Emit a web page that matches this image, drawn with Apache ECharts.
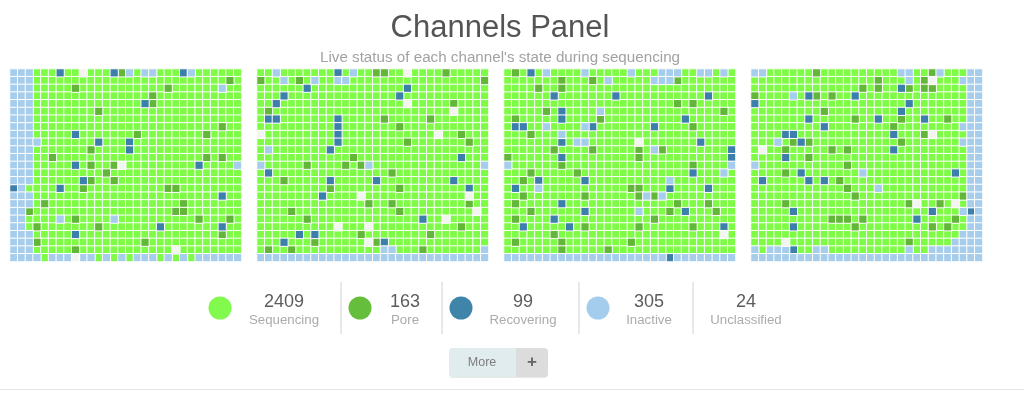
<!DOCTYPE html>
<html>
<head>
<meta charset="utf-8">
<style>html,body{margin:0;padding:0;background:#fff}#c{width:1024px;height:402px}</style>
<script src="https://cdn.jsdelivr.net/npm/echarts@6/dist/echarts.min.js"></script>
</head>
<body>
<div id="c"></div>
<script>
const columnCount = 30;
const rowCount = 25;

// Each map: row index -> column indices of the cells in that state.
const panel1Inactive = {0:[0,1,2,15,17,18,23],1:[0,1,2],2:[0,1,2,27],3:[0,1,2],4:[0,1,2],5:[0,1,2],6:[0,1,2],7:[0,1,2],8:[0,1,2],9:[0,1,2,3],10:[0,1,2],11:[0,1,2],12:[0,1,2,29],13:[0,1,2],14:[0,1,2],15:[1],16:[0,1,2],17:[0,1,2],18:[0,1],19:[0,1,6,13],20:[0,1],21:[0,1,2],22:[0,1,2],23:[0,1,2],24:[0,1,2,3,5,6,7,9,10,12,14,16,17,18,20,22,24,25,26,27,28,29]};
const panel1Pore = {0:[14],1:[28],2:[8,20],3:[18],4:[18],5:[11],7:[27],8:[16,25],10:[10],11:[5,25,27],12:[10,13],13:[12],14:[10,13],15:[9,20,21],17:[4,22],18:[2,21,22],19:[8,24,28],20:[3,11],21:[27],22:[3,17],23:[8]};
const panel1Recovering = {0:[6,13,22],4:[17],8:[8],9:[11,15],10:[15],12:[8,24],14:[9],15:[0,6],16:[27],20:[19,27],21:[8]};
const panel1Unclassified = {0:[9],12:[14],23:[21],24:[8]};

const panel2Inactive = {0:[2,12],1:[3,7,10,11],10:[1],12:[0,14,29],23:[16,17,29],24:[0,1,2,3,4,5,6,7,8,9,10,11,12,13,14,15,16,17,18,19,20,21,22,23,24,25,26,27,28,29]};
const panel2Pore = {0:[15,16,24],1:[0,5,29],4:[25],5:[1],6:[16,22],7:[18],8:[26],9:[19,27],11:[12],12:[6,11,13],13:[17],14:[3],15:[9,18],17:[14,17,27],18:[4,18],19:[6],20:[26],21:[13,22],22:[7,15],23:[1,4,21]};
const panel2Recovering = {0:[10],2:[6,19],3:[3,18],4:[2],6:[1,2,10],7:[10],8:[10],9:[10],10:[9],11:[26],13:[1],14:[9,15,25],15:[27],16:[8],19:[21],21:[5,7],22:[3,16]};
const panel2Unclassified = {0:[19],4:[19],5:[25],8:[0,23],16:[13,27],18:[28],19:[24],20:[10,14],22:[14]};

const panel3Inactive = {0:[5,10,16,20,21,22,25,26,28],1:[13,19,20,21],5:[12],7:[5,10],8:[7],9:[9,10],10:[19],12:[0,29],13:[28],14:[21],15:[4],16:[18,20],18:[17],24:[0,1,2,3,4,5,6,7,8,9,10,11,12,13,14,15,16,17,18,19,20,22,23,24,25,26,27,28,29]};
const panel3Pore = {0:[1],1:[7,11,22],2:[4,7],4:[22,24],5:[5,28],6:[1,12],7:[24],8:[3],10:[6,11,17,20],11:[0,17],12:[7,24],13:[3,9],14:[2],15:[16,17],16:[2,10,17,19],17:[1,22,26],18:[3,21,27],19:[1,19],20:[10,17,24],21:[6],22:[1,7,16],23:[7,13]};
const panel3Recovering = {0:[3],3:[6,14,26],5:[7],6:[7,23],7:[1,2,11,19],9:[7,25],10:[29],11:[7,29],13:[24],14:[4,10],15:[1,21,26],17:[7],18:[10,23],19:[6],20:[2,8,28],24:[21]};
const panel3Unclassified = {9:[17],21:[28]};

const panel4Inactive = {0:[0,1,19,20,24,28,29],1:[20,27,28,29],2:[28,29],3:[5,28,29],4:[28,29],5:[28,29],6:[28,29],7:[27,28,29],8:[28,29],9:[3,27,28,29],10:[28,29],11:[28,29],12:[0,28,29],13:[14,28,29],14:[28,29],15:[16,28,29],16:[28,29],17:[28,29],18:[27,29],19:[28,29],20:[28,29],21:[27,28,29],22:[26,27,28,29],23:[0,2,3,4,8,9,20,23,24,25,26,27,28,29],24:[0,1,2,3,4,5,6,7,8,9,10,11,12,13,14,15,16,17,18,19,20,21,22,23,24,25,26,27,28,29]};
const panel4Pore = {0:[8,23],1:[16,22],2:[14,16,20,22,23],3:[0,8,10],5:[9],6:[13,19,25],7:[18],8:[22],9:[5,7,19],10:[4,10,12],11:[7],12:[12],13:[4],14:[11],15:[12],16:[13,27],17:[4,20,24],19:[10,11,12,14,26],20:[13,23,25],22:[20]};
const panel4Recovering = {2:[19],3:[7,13],4:[0,20],5:[19],6:[7,16,22],7:[9],8:[4,5,18],9:[6],10:[18],11:[4],13:[6,26],14:[1,7,9],18:[5,23,28],19:[21],20:[5],23:[5]};
const panel4Unclassified = {1:[23],8:[23],10:[1],17:[21,26],22:[4]};

const panels = [
  {inactive:panel1Inactive,pore:panel1Pore,recovering:panel1Recovering,unclassified:panel1Unclassified},
  {inactive:panel2Inactive,pore:panel2Pore,recovering:panel2Recovering,unclassified:panel2Unclassified},
  {inactive:panel3Inactive,pore:panel3Pore,recovering:panel3Recovering,unclassified:panel3Unclassified},
  {inactive:panel4Inactive,pore:panel4Pore,recovering:panel4Recovering,unclassified:panel4Unclassified}
];

const legendLabels = ['Sequencing','Pore','Recovering','Inactive','Unclassified'];
const legendCounts = [2409,163,99,305,24];
const titleText = 'Channels Panel';
const subtitleText = "Live status of each channel's state during sequencing";
const buttonText = 'More';

const stateColors = {sequencing:'#7dfb45',pore:'#62b638',recovering:'#3c7fab',inactive:'#a6cdec',unclassified:'#f4f4f0'};
const legendColors = ['#82f94d','#66bf3c','#3f84a9','#a3cced',null];
const panelLefts = [10,257,504,751];
const panelWidth = 231.5;
const panelTop = 69;
const panelHeight = 192.5;

const indexList = n => Array.from({length:n},(_,i)=>i);

function cellsOf(map){
  const out=[];
  Object.keys(map).forEach(r=>map[r].forEach(c=>out.push([c,+r,1])));
  return out;
}
function sequencingCells(p){
  const taken=new Set();
  ['inactive','pore','recovering','unclassified'].forEach(k=>cellsOf(p[k]).forEach(d=>taken.add(d[0]+'_'+d[1])));
  const out=[];
  indexList(rowCount).forEach(r=>indexList(columnCount).forEach(c=>{ if(!taken.has(c+'_'+r)) out.push([c,r,1]); }));
  return out;
}

const grids=[],xAxes=[],yAxes=[],series=[];
panels.forEach((p,i)=>{
  grids.push({left:panelLefts[i],top:panelTop,width:panelWidth,height:panelHeight});
  xAxes.push({type:'category',gridIndex:i,show:false,data:indexList(columnCount)});
  yAxes.push({type:'category',gridIndex:i,show:false,inverse:true,data:indexList(rowCount)});
  const datasets={sequencing:sequencingCells(p),pore:cellsOf(p.pore),recovering:cellsOf(p.recovering),inactive:cellsOf(p.inactive),unclassified:cellsOf(p.unclassified)};
  Object.keys(datasets).forEach(k=>{
    series.push({type:'heatmap',name:k,xAxisIndex:i,yAxisIndex:i,data:datasets[k],silent:true,animation:false,progressive:0,
      itemStyle:{color:stateColors[k],borderColor:'#ffffff',borderWidth:1}});
  });
});

const font='"Liberation Sans", Arial, sans-serif';
const legendCircleX=[220,360,461,598,null];
const legendTextX=[284,405,523,649,746];
const dividerX=[341,442,579,693];
const graphic=[];
legendLabels.forEach((label,i)=>{
  if(legendColors[i]) graphic.push({type:'circle',shape:{cx:legendCircleX[i],cy:308,r:11.5},style:{fill:legendColors[i]},silent:true});
  graphic.push({type:'text',x:legendTextX[i],y:302,style:{text:String(legendCounts[i]),font:'400 18px '+font,fill:'#5c5c5c',textAlign:'center',textVerticalAlign:'middle'},silent:true});
  graphic.push({type:'text',x:legendTextX[i],y:320,style:{text:label,font:'400 13.25px '+font,fill:'#ababab',textAlign:'center',textVerticalAlign:'middle'},silent:true});
});
dividerX.forEach(x=>graphic.push({type:'rect',shape:{x:x-0.5,y:282,width:1,height:52},style:{fill:'#d2d2d2'},silent:true}));
graphic.push({type:'rect',shape:{x:449,y:349,width:99,height:29,r:4},style:{fill:'#e8e8e8'},silent:true});
graphic.push({type:'rect',shape:{x:449,y:348,width:67,height:29,r:[4,0,0,4]},style:{fill:'#e1ecef'},silent:true});
graphic.push({type:'rect',shape:{x:516,y:348,width:32,height:29,r:[0,4,4,0]},style:{fill:'#dcdcdc'},silent:true});
graphic.push({type:'text',x:482,y:363,style:{text:buttonText,font:'400 12.5px '+font,fill:'#7d7d7d',textAlign:'center',textVerticalAlign:'middle'},silent:true});
graphic.push({type:'text',x:532,y:362,style:{text:'+',font:'700 17px '+font,fill:'#666666',textAlign:'center',textVerticalAlign:'middle'},silent:true});
graphic.push({type:'rect',shape:{x:0,y:389,width:1024,height:1},style:{fill:'#e4e4e4'},silent:true});

const chart=echarts.init(document.getElementById('c'),null,{renderer:'canvas'});
chart.setOption({
  backgroundColor:'#ffffff',
  animation:false,
  title:[
    {text:titleText,left:500,top:13,padding:0,textAlign:'center',textStyle:{fontFamily:font,fontWeight:400,fontSize:31,color:'#545454'}},
    {text:subtitleText,left:500,top:50,padding:0,textAlign:'center',textStyle:{fontFamily:font,fontWeight:400,fontSize:15.2,color:'#a2a2a2'}}
  ],
  tooltip:{show:false},
  grid:grids,xAxis:xAxes,yAxis:yAxes,series:series,graphic:graphic
});
</script>
</body>
</html>
